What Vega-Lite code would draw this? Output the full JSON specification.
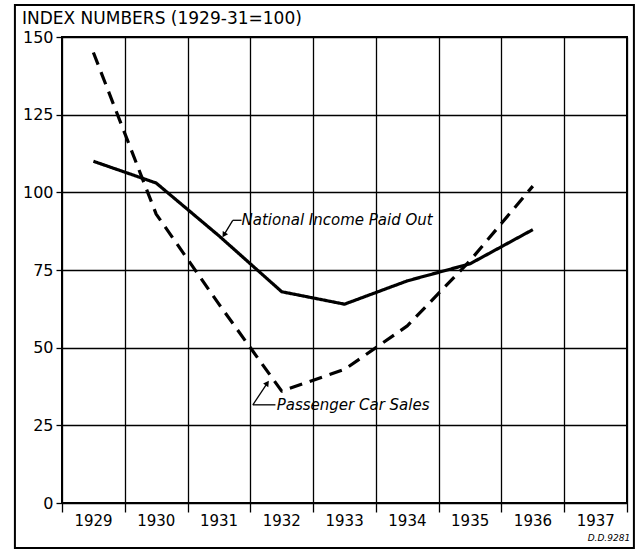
{
  "$schema": "https://vega.github.io/schema/vega-lite/v6.json",
  "width": 565,
  "height": 466,
  "autosize": "none",
  "padding": {"left": 62, "top": 37, "right": 10, "bottom": 47},
  "background": "white",
  "title": {
    "text": "INDEX NUMBERS (1929-31=100)",
    "anchor": "start",
    "frame": "group",
    "dx": -40,
    "offset": -24,
    "font": "DejaVu Sans",
    "fontSize": 17,
    "fontWeight": "normal",
    "color": "black"
  },
  "config": {
    "view": {"stroke": "black", "strokeWidth": 2},
    "axis": {
      "labelFont": "DejaVu Sans",
      "labelFontSize": 15,
      "labelColor": "black",
      "gridColor": "black",
      "gridWidth": 1.3,
      "gridOpacity": 1,
      "tickColor": "black",
      "tickWidth": 1.3,
      "domain": false,
      "title": null
    }
  },
  "datasets": {
    "series": [
      {"year": 1929, "value": 110, "series": "National Income Paid Out"},
      {"year": 1930, "value": 103, "series": "National Income Paid Out"},
      {"year": 1931, "value": 86, "series": "National Income Paid Out"},
      {"year": 1932, "value": 68, "series": "National Income Paid Out"},
      {"year": 1933, "value": 64, "series": "National Income Paid Out"},
      {"year": 1934, "value": 71.5, "series": "National Income Paid Out"},
      {"year": 1935, "value": 77, "series": "National Income Paid Out"},
      {"year": 1936, "value": 88, "series": "National Income Paid Out"},
      {"year": 1929, "value": 145, "series": "Passenger Car Sales"},
      {"year": 1930, "value": 93, "series": "Passenger Car Sales"},
      {"year": 1931, "value": 64, "series": "Passenger Car Sales"},
      {"year": 1932, "value": 36, "series": "Passenger Car Sales"},
      {"year": 1933, "value": 43, "series": "Passenger Car Sales"},
      {"year": 1934, "value": 57, "series": "Passenger Car Sales"},
      {"year": 1935, "value": 78, "series": "Passenger Car Sales"},
      {"year": 1936, "value": 102, "series": "Passenger Car Sales"}
    ],
    "labels": [
      {"x": 1931.36, "y": 91, "label": "National Income Paid Out"},
      {"x": 1931.92, "y": 31.5, "label": "Passenger Car Sales"}
    ],
    "leaders": [
      {"x": 1931.22, "x2": 1931.36, "y": 91, "y2": 91},
      {"x": 1931.22, "x2": 1931.08, "y": 91, "y2": 86.3},
      {"x": 1931.54, "x2": 1931.9, "y": 31.6, "y2": 31.6},
      {"x": 1931.54, "x2": 1931.77, "y": 31.6, "y2": 38.6}
    ],
    "arrows": [
      {"x": 1931.08, "y": 86.3, "angle": 32},
      {"x": 1931.77, "y": 38.6, "angle": 215}
    ],
    "frame": [
      {"x": 1927.75, "x2": 1937.61, "y": -14.5, "y2": 160.3}
    ],
    "note": [
      {"x": 1937.55, "y": -11.2, "label": "D.D.9281"}
    ]
  },
  "layer": [
    {
      "data": {"name": "frame"},
      "mark": {"type": "rect", "fill": null, "fillOpacity": 0, "stroke": "black", "strokeWidth": 2},
      "encoding": {
        "x": {"field": "x", "type": "quantitative", "scale": {"domain": [1928.5, 1937.5], "nice": false, "zero": false},
          "axis": {
            "values": [1928.5, 1929.5, 1930.5, 1931.5, 1932.5, 1933.5, 1934.5, 1935.5, 1936.5, 1937.5],
            "grid": true,
            "ticks": true,
            "tickSize": 9,
            "labelPadding": 1,
            "labelOffset": 31,
            "labelAlign": "center",
            "labelFlush": false,
            "labelOverlap": false,
            "labelExpr": "datum.value < 1937 ? format(datum.value + 0.5, 'd') : ''"
          }},
        "x2": {"field": "x2"},
        "y": {"field": "y", "type": "quantitative", "scale": {"domain": [0, 150], "nice": false},
          "axis": {
            "values": [0, 25, 50, 75, 100, 125, 150],
            "grid": true,
            "ticks": true,
            "tickSize": 6,
            "labelPadding": 3,
            "labelFontSize": 16
          }},
        "y2": {"field": "y2"}
      }
    },
    {
      "data": {"name": "series"},
      "mark": {"type": "line", "color": "black", "strokeWidth": 3.2, "strokeJoin": "round"},
      "encoding": {
        "x": {"field": "year", "type": "quantitative"},
        "y": {"field": "value", "type": "quantitative"},
        "detail": {"field": "series"},
        "strokeDash": {"field": "series", "type": "nominal",
          "scale": {"domain": ["National Income Paid Out", "Passenger Car Sales"], "range": [[1, 0], [13, 8]]},
          "legend": null}
      }
    },
    {
      "data": {"name": "leaders"},
      "mark": {"type": "rule", "color": "black", "strokeWidth": 1.3},
      "encoding": {
        "x": {"field": "x", "type": "quantitative"},
        "x2": {"field": "x2"},
        "y": {"field": "y", "type": "quantitative"},
        "y2": {"field": "y2"}
      }
    },
    {
      "data": {"name": "arrows"},
      "mark": {"type": "point", "shape": "triangle-down", "filled": true, "color": "black", "size": 40, "opacity": 1},
      "encoding": {
        "x": {"field": "x", "type": "quantitative"},
        "y": {"field": "y", "type": "quantitative"},
        "angle": {"field": "angle", "type": "quantitative", "scale": null}
      }
    },
    {
      "data": {"name": "labels"},
      "mark": {"type": "text", "align": "left", "baseline": "middle", "font": "DejaVu Sans", "fontSize": 15, "fontStyle": "italic", "color": "black"},
      "encoding": {
        "x": {"field": "x", "type": "quantitative"},
        "y": {"field": "y", "type": "quantitative"},
        "text": {"field": "label"}
      }
    },
    {
      "data": {"name": "note"},
      "mark": {"type": "text", "align": "right", "baseline": "middle", "font": "DejaVu Sans", "fontSize": 9, "fontStyle": "italic", "color": "black"},
      "encoding": {
        "x": {"field": "x", "type": "quantitative"},
        "y": {"field": "y", "type": "quantitative"},
        "text": {"field": "label"}
      }
    }
  ]
}
